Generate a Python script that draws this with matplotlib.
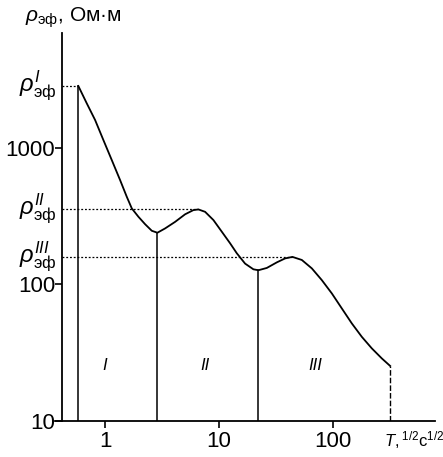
import numpy as np
import matplotlib
matplotlib.use("Agg")
import matplotlib.pyplot as plt

plt.rcParams['font.family'] = ['Liberation Sans', 'DejaVu Sans']
plt.rcParams['mathtext.fontset'] = 'custom'
plt.rcParams['mathtext.rm'] = 'Liberation Sans'
plt.rcParams['mathtext.it'] = 'Liberation Sans:italic'

# curve: T^(1/2) (s^1/2) vs rho_eff (Ohm*m)
t_sqrt = [0.582, 0.690, 0.817, 0.966, 1.145, 1.355, 1.552, 1.718, 1.963,
          2.248, 2.575, 2.884, 3.372, 4.128, 5.053, 5.978, 6.616, 7.577,
          8.965, 10.63, 12.57, 14.40, 17.03, 20.15, 22.30, 26.44, 32.37,
          38.30, 44.40, 53.70, 65.77, 80.5, 98.6, 120.7, 147.8, 181.0,
          221.6, 271.4, 321.0]
rho = [2836, 2118, 1599, 1141, 814, 581, 438, 360, 313,
       276, 247, 239, 257, 287, 326, 350, 354, 340,
       296, 243, 200, 169, 142, 129, 127, 132, 145,
       155, 159, 151, 131, 107.5, 85.9, 66.7, 51.8, 41.3,
       34.0, 28.7, 25.3]

# characteristic levels (peaks) and zone boundaries (minima)
peak_x = [0.582, 6.616, 44.40]
peak_rho = [2836, 356, 160]
peak_labels = [r"$\rho^{I}_{\mathrm{эф}}$", r"$\rho^{II}_{\mathrm{эф}}$",
               r"$\rho^{III}_{\mathrm{эф}}$"]
bound_x = [0.582, 2.884, 22.30]
bound_rho = [2836, 239, 127]
end_x, end_rho = 321.0, 25.3

zone_x = [1.0, 7.6, 70]
zone_labels = ["I", "II", "III"]
zone_y = 25.6

x_left, x_right = 0.363, 798
y_bottom, y_top = 10, 6930
spine_x = 0.418

fig = plt.figure(figsize=(4.43, 4.57), dpi=100)
ax = fig.add_axes([0.1242, 0.0788, 0.858, 0.849])
ax.set_xscale('log')
ax.set_yscale('log')
ax.set_xlim(x_left, x_right)
ax.set_ylim(y_bottom, y_top)

for s in ['top', 'right']:
    ax.spines[s].set_visible(False)
ax.spines['left'].set_position(('data', spine_x))
ax.spines['left'].set_linewidth(1.3)
ax.spines['bottom'].set_linewidth(1.3)

ax.set_xticks([1, 10, 100])
ax.set_xticklabels(["1", "10", "100"])
ax.set_yticks([10, 100, 1000])
ax.set_yticklabels(["10", "100", "1000"])
ax.minorticks_off()
ax.tick_params(axis='x', direction='out', length=5, width=1.2,
               labelsize=16, pad=2)
ax.tick_params(axis='y', direction='out', length=5, width=1.2,
               labelsize=16, pad=0)

ax.plot(t_sqrt, rho, color='black', lw=1.3)

for bx, br in zip(bound_x, bound_rho):
    ax.plot([bx, bx], [y_bottom, br], color='black', lw=1.1)
ax.plot([end_x, end_x], [y_bottom, end_rho], color='black', lw=1.0,
        ls=(0, (4, 1.5)))

for px, pr, lab in zip(peak_x, peak_rho, peak_labels):
    ax.plot([spine_x, px], [pr, pr], color='black', lw=0.9, ls=(0, (1.5, 1.5)))
    ax.text(0.375, pr, lab, ha='right', va='center', fontsize=17)

for zx, zl in zip(zone_x, zone_labels):
    ax.text(zx, zone_y, zl, ha='center', va='center', fontsize=12,
            style='italic')

fig.text(0.056, 0.962, r"$\rho_{\mathrm{эф}}$, Ом·м", ha='left', va='center',
         fontsize=15)
fig.text(0.866, 0.036, r"$T,^{1/2}\mathrm{c}^{1/2}$", ha='left', va='center',
         fontsize=12)

fig.savefig("out.png", dpi=100)
